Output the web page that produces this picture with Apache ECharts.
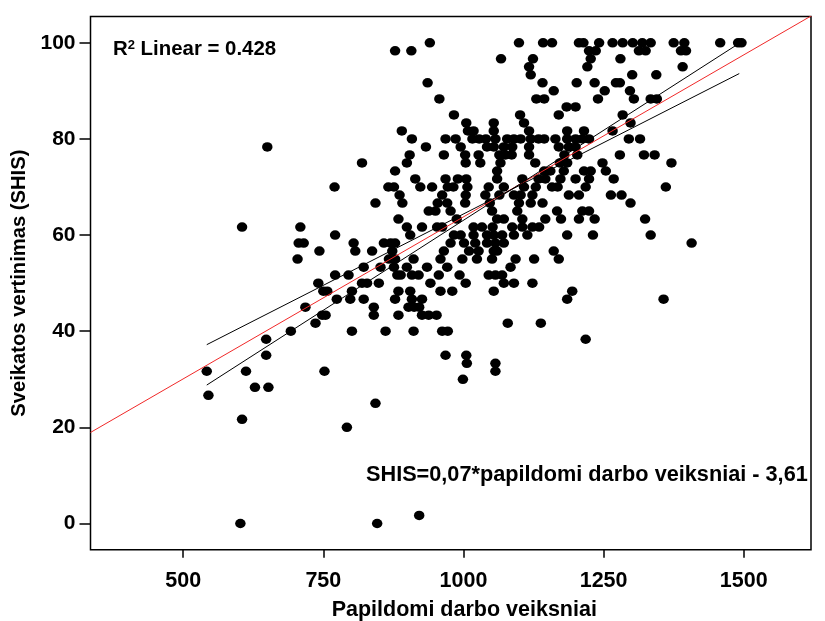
<!DOCTYPE html>
<html>
<head>
<meta charset="utf-8">
<script src="https://cdn.jsdelivr.net/npm/echarts@6/dist/echarts.min.js"></script>
<style>
html,body{margin:0;padding:0;background:#fff;}
#chart{width:825px;height:621px;}
</style>
</head>
<body>
<div id="chart"></div>
<script>
// SHIS levels (y) and the "Papildomi darbo veiksniai" values (x) observed at each level
const shisLevels = [100, 98.33, 96.67, 95, 93.33, 91.67, 90, 88.33, 86.67, 85, 83.33, 81.67, 80, 78.33, 76.67, 75, 73.33, 71.67, 70, 68.33, 66.67, 65, 63.33, 61.67, 60, 58.33, 56.67, 55, 53.33, 51.67, 50, 48.33, 46.67, 45, 43.33, 41.67, 40, 38.33, 35, 33.33, 31.67, 30, 28.33, 26.67, 25, 21.67, 20, 1.67, 0];
const factorsByLevel = [
  [940, 1099, 1142, 1158, 1206, 1214, 1242, 1266, 1284, 1302, 1319, 1334, 1375, 1394, 1458, 1490, 1496],
  [878, 907, 1224, 1236, 1313, 1325, 1388, 1397],
  [1067, 1124, 1227, 1280],
  [1117, 1221, 1391],
  [1120, 1301, 1344],
  [936, 1141, 1202, 1234, 1272, 1279],
  [1161, 1252, 1297],
  [957, 1130, 1144, 1240, 1304, 1334, 1345],
  [1184, 1200],
  [983, 1101, 1170, 1284],
  [1005, 1054, 1108, 1298],
  [890, 1008, 1018, 1054, 1117, 1185, 1215, 1266],
  [908, 968, 986, 1016, 1028, 1040, 1057, 1078, 1090, 1102, 1120, 1134, 1144, 1164, 1185, 1200, 1212, 1224, 1295, 1315],
  [650, 933, 995, 1042, 1054, 1072, 1087, 1117, 1170, 1188, 1200],
  [904, 965, 1003, 1027, 1064, 1075, 1086, 1117, 1180, 1203, 1279, 1322, 1341],
  [819, 899, 1004, 1030, 1066, 1128, 1172, 1185, 1248, 1371],
  [878, 1060, 1144, 1155, 1179, 1215, 1227, 1254],
  [914, 968, 990, 1005, 1060, 1105, 1134, 1146, 1173, 1200, 1224, 1268],
  [770, 866, 876, 923, 944, 972, 982, 1007, 1045, 1072, 1108, 1129, 1158, 1168, 1218, 1361],
  [886, 962, 1004, 1039, 1064, 1090, 1102, 1123, 1188, 1206, 1263, 1282],
  [843, 891, 954, 971, 1003, 1047, 1099, 1120, 1141, 1298],
  [938, 950, 977, 1051, 1096, 1167, 1212, 1224],
  [884, 988, 1060, 1072, 1105, 1146, 1174, 1206, 1234, 1324],
  [605, 709, 899, 926, 953, 962, 1018, 1033, 1052, 1087, 1105, 1123, 1135],
  [771, 905, 983, 995, 1018, 1042, 1054, 1069, 1090, 1114, 1185, 1231, 1334],
  [706, 715, 804, 858, 870, 878, 977, 1001, 1021, 1042, 1057, 1072, 1407],
  [743, 807, 837, 873, 965, 1010, 1027, 1054, 1060, 1161],
  [704, 867, 878, 911, 959, 998, 1024, 1051, 1093, 1126, 1170],
  [822, 852, 876, 899, 935, 971, 1084],
  [771, 795, 882, 888, 908, 920, 956, 993, 1045, 1057, 1069],
  [741, 819, 828, 849, 941, 1004, 1072, 1090, 1123],
  [750, 757, 801, 884, 905, 959, 980, 1054, 1194],
  [774, 798, 822, 878, 908, 926, 1185, 1357],
  [718, 840, 902, 912, 921],
  [748, 754, 840, 884, 926, 938, 952],
  [736, 1079, 1138],
  [692, 801, 861, 911, 962, 972],
  [648, 1218],
  [648, 968, 1005],
  [1006, 1057],
  [542, 612, 752, 1057],
  [999],
  [628, 652],
  [545],
  [843],
  [605],
  [792],
  [921],
  [602, 846]
];
// Line end points
const fitLine = [[334.6, 18.94], [1630, 106.25]];      // red linear fit
const lineA = [[542, 28.8], [1492, 99.9]];             // black line
const lineB = [[542, 37.2], [1492, 93.6]];             // black line
const xTicks = [500, 750, 1000, 1250, 1500];
const yTicks = [0, 20, 40, 60, 80, 100];
const xRange = [334.6, 1620];
const yRange = [-5.45, 105.45];
const eqText = 'SHIS=0,07*papildomi darbo veiksniai - 3,61';

const points = [];
shisLevels.forEach((lv, i) => factorsByLevel[i].forEach(x => points.push([x, lv])));

const FONT = '"Liberation Sans", Arial, sans-serif';
const chart = echarts.init(document.getElementById('chart'), null, {renderer: 'canvas'});
chart.setOption({
  animation: false,
  backgroundColor: '#fff',
  grid: {left: 90.5, top: 16.6, right: 14, bottom: 71.3, show: true, outerBoundsMode: 'none', containLabel: false,
    borderColor: '#000', borderWidth: 1.5, backgroundColor: 'transparent'},
  xAxis: {
    type: 'value', min: xRange[0], max: xRange[1],
    name: 'Papildomi darbo veiksniai', nameLocation: 'middle', nameGap: 49,
    nameTextStyle: {fontFamily: FONT, fontWeight: 'bold', fontSize: 21.5, color: '#000', padding: [0, 0, 0, 27]},
    axisLine: {show: false, onZero: false},
    axisTick: {show: true, length: 8, customValues: xTicks, lineStyle: {color: '#000', width: 1.5}},
    axisLabel: {customValues: xTicks, margin: 20, fontFamily: FONT, fontWeight: 'bold', fontSize: 21.5, color: '#000',
      formatter: v => String(v)},
    splitLine: {show: false}
  },
  yAxis: {
    type: 'value', min: yRange[0], max: yRange[1],
    name: 'Sveikatos vertinimas (SHIS)', nameLocation: 'middle', nameGap: 59,
    nameTextStyle: {fontFamily: FONT, fontWeight: 'bold', fontSize: 20.2, color: '#000'},
    axisLine: {show: false, onZero: false},
    axisTick: {show: true, length: 11, customValues: yTicks, lineStyle: {color: '#000', width: 1.5}},
    axisLabel: {customValues: yTicks, margin: 15, fontFamily: FONT, fontWeight: 'bold', fontSize: 21, color: '#000',
      formatter: v => String(v)},
    splitLine: {show: false}
  },
  series: [
    {type: 'scatter', data: points, symbol: 'circle', symbolSize: [10.5, 9.5], itemStyle: {color: '#000', opacity: 1}, z: 3},
    {type: 'line', data: fitLine, showSymbol: false, clip: true, lineStyle: {color: '#f02828', width: 1}, z: 4},
    {type: 'line', data: lineA, showSymbol: false, clip: true, lineStyle: {color: '#000', width: 1}, z: 4},
    {type: 'line', data: lineB, showSymbol: false, clip: true, lineStyle: {color: '#000', width: 1}, z: 4}
  ],
  graphic: [
    {type: 'text', left: 113, top: 39, style: {text: 'R{s|2} Linear = 0.428', fontFamily: FONT, fontWeight: 'bold', fontSize: 20.4, fill: '#000',
      rich: {s: {fontSize: 13, fontWeight: 'bold', fontFamily: FONT, verticalAlign: 'top', padding: [0,0,8,0]}}}},
    {type: 'text', left: 366, top: 464, style: {text: eqText, fontFamily: FONT, fontWeight: 'bold', fontSize: 21.7, fill: '#000'}}
  ]
});
</script>
</body>
</html>
